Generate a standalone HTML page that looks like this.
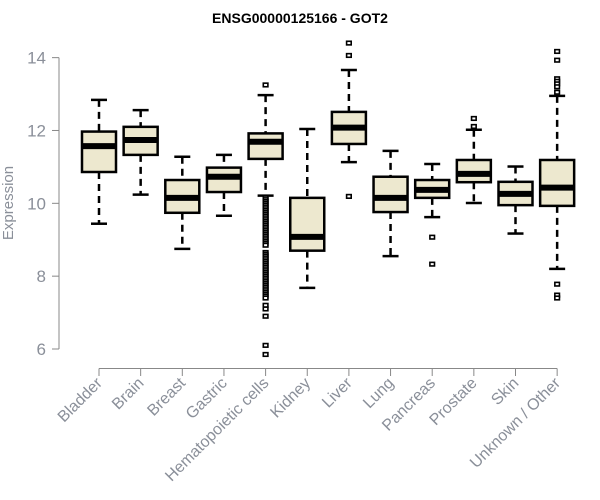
<!DOCTYPE html>
<html><head><meta charset="utf-8"><style>
body{margin:0;background:#fff}
svg{display:block;font-family:"Liberation Sans",Arial,sans-serif}
</style></head><body>
<svg id="chart" width="600" height="500" xmlns="http://www.w3.org/2000/svg">
<text x="300" y="23" text-anchor="middle" font-weight="bold" font-size="14" fill="#000">ENSG00000125166 - GOT2</text>
<text transform="translate(13,203) rotate(-90)" text-anchor="middle" font-size="15" fill="#8a8f99">Expression</text>
<g id="axes"></g><g id="boxes"></g>
</svg>
<script>
const categories=["Bladder","Brain","Breast","Gastric","Hematopoietic cells","Kidney","Liver","Lung","Pancreas","Prostate","Skin","Unknown / Other"];
const whiskerLow=[9.44,10.24,8.75,9.66,10.21,7.68,11.13,8.55,9.62,10.01,9.17,8.20];
const q1=[10.86,11.33,9.74,10.31,11.22,8.70,11.63,9.76,10.15,10.58,9.95,9.93];
const medians=[11.57,11.74,10.15,10.73,11.69,9.08,12.08,10.15,10.37,10.81,10.26,10.43];
const q3=[11.97,12.10,10.64,10.98,11.92,10.15,12.51,10.73,10.64,11.19,10.59,11.19];
const whiskerHigh=[12.84,12.56,11.28,11.33,12.97,12.04,13.66,11.44,11.08,12.02,11.01,12.95];
const outliers=[[],[],[],[],
[13.25,10.15,10.1,10.05,10.0,9.95,9.9,9.85,9.8,9.75,9.7,9.65,9.6,9.55,9.5,9.45,9.4,9.35,9.3,9.25,9.2,9.15,9.1,9.05,9.0,8.95,8.9,8.85,8.65,8.6,8.55,8.5,8.45,8.4,8.35,8.3,8.25,8.2,8.15,8.1,8.05,8.0,7.95,7.9,7.85,7.8,7.75,7.7,7.65,7.6,7.55,7.5,7.45,7.4,7.2,7.1,6.9,6.1,5.85],
[],[14.4,14.06,10.19],[],[9.07,8.33],[12.33,12.11],[],
[14.17,13.93,13.42,13.35,13.28,13.2,13.05,7.78,7.48,7.4]];
const yTicks=[6,8,10,12,14];
const ns="http://www.w3.org/2000/svg";
function y(v){return 349-(v-6)*36.42;}
function x(i){return 99+i*41.65;}
function mk(t,a,p){const e=document.createElementNS(ns,t);for(const k in a)e.setAttribute(k,a[k]);p.appendChild(e);return e;}
const ax=document.getElementById('axes'),bx=document.getElementById('boxes');
const gc="#888";
let yl=mk('line',{x1:59,x2:59,y1:y(14),y2:y(6),stroke:gc},ax);


yTicks.forEach(t=>{
 mk('line',{x1:52,x2:59,y1:y(t),y2:y(t),stroke:gc},ax);
 const tx=mk('text',{x:46,y:y(t)+6,'text-anchor':'end','font-size':17,fill:'#8a8f99'},ax);
 tx.textContent=t;
 
 
});
let xl=mk('line',{x1:x(0),x2:x(11),y1:368.5,y2:368.5,stroke:gc},ax);


categories.forEach((c,i)=>{
 const cx=x(i);
 mk('line',{x1:cx,x2:cx,y1:368.5,y2:376,stroke:gc},ax);
 const tx=mk('text',{transform:`translate(${cx+4},${384}) rotate(-45)`,'text-anchor':'end','font-size':16,fill:'#8a8f99'},ax);
 tx.textContent=c;
 
 
 const g=mk('g',{},bx);
 
 
 const hw=17,cw=8;
 mk('line',{x1:cx,x2:cx,y1:y(whiskerHigh[i]),y2:y(q3[i]),stroke:'#000','stroke-width':2.5,'stroke-dasharray':'7,5'},g);
 mk('line',{x1:cx,x2:cx,y1:y(q1[i]),y2:y(whiskerLow[i]),stroke:'#000','stroke-width':2.5,'stroke-dasharray':'7,5'},g);
 mk('line',{x1:cx-cw,x2:cx+cw,y1:y(whiskerHigh[i]),y2:y(whiskerHigh[i]),stroke:'#000','stroke-width':2.5},g);
 mk('line',{x1:cx-cw,x2:cx+cw,y1:y(whiskerLow[i]),y2:y(whiskerLow[i]),stroke:'#000','stroke-width':2.5},g);
 mk('rect',{x:cx-hw,y:y(q3[i]),width:hw*2,height:y(q1[i])-y(q3[i]),fill:'#ede8cf',stroke:'#000','stroke-width':2.5},g);
 mk('line',{x1:cx-hw,x2:cx+hw,y1:y(medians[i]),y2:y(medians[i]),stroke:'#000','stroke-width':6},g);
 outliers[i].forEach(v=>{
  const r=mk('rect',{x:cx-2.3,y:y(v)-1.8,width:4.6,height:3.6,fill:'#fff',stroke:'#000','stroke-width':1.6},g);
  
  
 });
});
</script>
</body></html>
